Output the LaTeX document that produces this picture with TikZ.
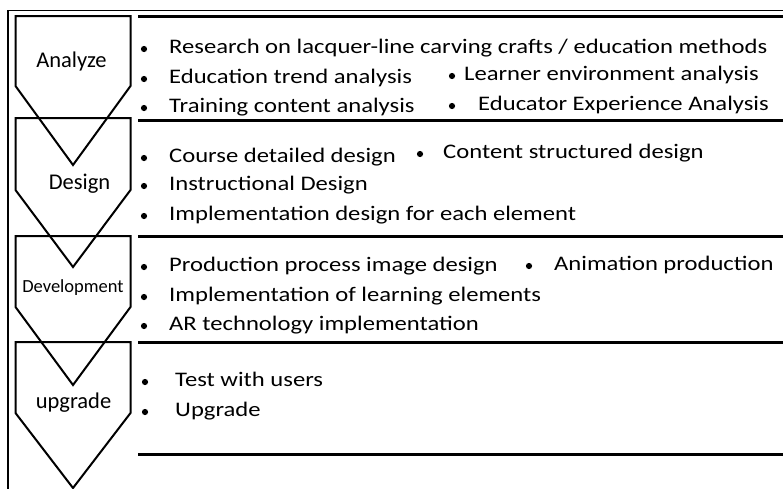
\documentclass[tikz,border=0pt]{standalone}
\usepackage{fontspec}
\setmainfont{Carlito}
\newfontfamily\itemfont{Carlito}[FakeStretch=1.19]
\usetikzlibrary{positioning}

\begin{document}
\begin{tikzpicture}[x=1pt, y=-1pt, line join=miter,
    chevron/.style={line width=2pt},
    rule/.style={line width=3pt},
    stage/.style={font=\fontsize{22.5}{24}\selectfont, inner sep=0pt, anchor=base},
    item/.style={font=\itemfont\fontsize{20.7}{24}\selectfont, inner sep=0pt, anchor=base west}]
    \useasboundingbox (0,0) rectangle (783,488);
    % outer frame
    \draw[line width=1.5pt] (8,495) -- (8,10.5) -- (790,10.5);
    % row rules
    \foreach \y in {16, 120, 236, 342, 454} {
      \draw[rule] (138,\y) -- (790,\y);
    }
    % stage chevrons: top, end of sides, tip
    \foreach \t/\s/\p in {16/86/165, 118/190/267, 236/307/385, 342/413/488} {
      \draw[chevron] (15.5,\t) -- (130.5,\t) -- (130.5,\s) -- (73,\p) -- (15.5,\s) -- cycle;
    }
    % stage names
    \node[stage] (analyze) at (71.5, 67) {Analyze};
    \node[stage] (design)  at (79.5, 189) {Design};
    \node[stage, font=\fontsize{18.5}{20}\selectfont] (develop) at (73, 292) {Development};
    \node[stage] (upgrade) at (73.5, 408) {upgrade};
    % analyze items
    \node[item] (research) at (169, 53)  {Research on lacquer-line carving crafts / education methods};
    \node[item] (trend)    at (169, 83)  {Education trend analysis};
    \node[item] (training) at (169, 112) {Training content analysis};
    \node[item] (learner)  at (464, 80)  {Learner environment analysis};
    \node[item] (educator) at (478, 110) {Educator Experience Analysis};
    % design items
    \node[item] (course)   at (169, 162) {Course detailed design};
    \node[item] (content)  at (443, 158) {Content structured design};
    \node[item] (instr)    at (169, 190) {Instructional Design};
    \node[item] (impldes)  at (169, 220) {Implementation design for each element};
    % development items
    \node[item] (process)  at (169, 271) {Production process image design};
    \node[item] (anim)     at (554, 270) {Animation production};
    \node[item] (learnel)  at (169, 301) {Implementation of learning elements};
    \node[item] (artech)   at (169, 330) {AR technology implementation};
    % upgrade items
    \node[item] (testuse)  at (175, 386) {Test with users};
    \node[item] (upg)      at (175, 416) {Upgrade};
    % bullets
    \foreach \n/\g in {research/25, trend/25, training/25, learner/12, educator/26,
                       course/25, content/23, instr/25, impldes/25,
                       process/25, anim/25, learnel/25, artech/25,
                       testuse/30, upg/30} {
      \fill ([xshift=-\g pt, yshift=4pt]\n.base west) circle (3.1pt);
    }
\end{tikzpicture}
\end{document}
